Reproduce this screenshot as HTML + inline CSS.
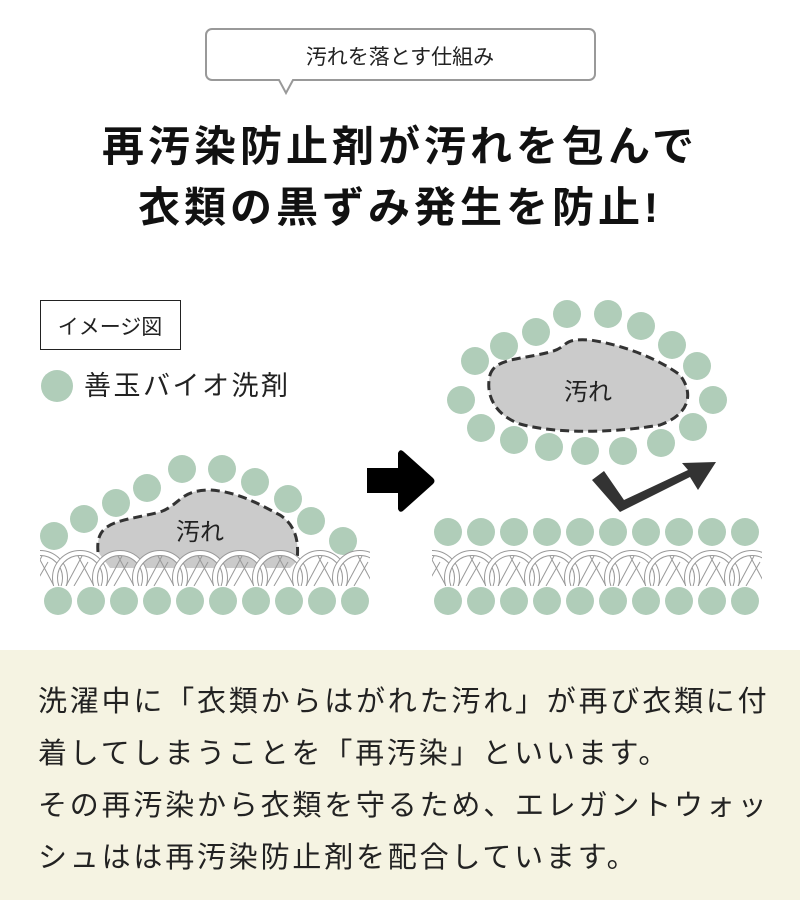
<!DOCTYPE html>
<html><head><meta charset="utf-8"><style>
body{margin:0;width:800px;height:900px;background:#fff;overflow:hidden;font-family:"Liberation Sans","Noto Sans CJK JP",sans-serif;}
svg{position:absolute;left:0;top:0}
.p{position:absolute;left:0;top:650px;width:800px;height:250px;background:#f5f3e2}
.t{position:absolute;left:38px;top:676px;font-size:29px;letter-spacing:2.8px;line-height:52px;color:#222;white-space:nowrap}
</style></head><body>
<div class="p"></div>
<div class="t">洗濯中に「衣類からはがれた汚れ」が再び衣類に付<br>着してしまうことを「再汚染」といいます。<br>その再汚染から衣類を守るため、エレガントウォッ<br>シュはは再汚染防止剤を配合しています。</div>
<svg width="800" height="650" viewBox="0 0 800 650" font-family="Liberation Sans, Noto Sans CJK JP, sans-serif">
<defs>
<g id="arc">
<path d="M-14 586 L2 556 M14 586 L-2 556 M-6 586 L8 562" stroke="#999" stroke-width="1" fill="none"/>
<circle cx="0" cy="578" r="25" stroke="#999" stroke-width="6" fill="none"/>
<circle cx="0" cy="578" r="25" stroke="#fff" stroke-width="4" fill="none"/>
</g>
<g id="fab">
<use href="#arc" x="20"/><use href="#arc" x="60"/><use href="#arc" x="100"/><use href="#arc" x="140"/><use href="#arc" x="180"/><use href="#arc" x="220"/><use href="#arc" x="260"/><use href="#arc" x="300"/><use href="#arc" x="340"/><use href="#arc" x="380"/>
</g>
<clipPath id="cl"><rect x="40" y="548" width="330" height="38"/></clipPath>
<clipPath id="cr"><rect x="432" y="548" width="330" height="38"/></clipPath>
</defs>
<path d="M212 29 H589 a6 6 0 0 1 6 6 V74 a6 6 0 0 1 -6 6 H293 L286 93 L279 80 H212 a6 6 0 0 1 -6 -6 V35 a6 6 0 0 1 6 -6Z" fill="#fff" stroke="#999" stroke-width="2"/>
<text x="400" y="64" font-size="21" text-anchor="middle" fill="#222">汚れを落とす仕組み</text>
<text x="400" y="161" font-size="42" letter-spacing="4" text-anchor="middle" fill="#111" font-weight="bold">再汚染防止剤が汚れを包んで</text>
<text x="400" y="222" font-size="42" letter-spacing="4" text-anchor="middle" fill="#111" font-weight="bold">衣類の黒ずみ発生を防止!</text>
<rect x="40.5" y="300.5" width="140" height="49" fill="#fff" stroke="#222"/>
<text x="110" y="334" font-size="21" text-anchor="middle" fill="#222">イメージ図</text>
<circle cx="57" cy="386" r="16" fill="#b0cdb9"/>
<text x="84" y="395" font-size="27" letter-spacing="2.5" fill="#222">善玉バイオ洗剤</text>
<g fill="#b0cdb9">
<circle cx="54" cy="536" r="14"/><circle cx="84" cy="519" r="14"/><circle cx="116" cy="503" r="14"/><circle cx="147" cy="488" r="14"/><circle cx="182" cy="469" r="14"/><circle cx="222" cy="469" r="14"/><circle cx="255" cy="482" r="14"/><circle cx="288" cy="499" r="14"/><circle cx="311" cy="521" r="14"/><circle cx="343" cy="541" r="14"/>
</g>
<path d="M98 552 C95 520 120 522 160 512 C180 505 180 490 210 490 C240 492 260 505 280 515 C300 528 298 550 297 561 L290 568 L110 568 Z" fill="#cbcbcb" stroke="none"/>
<path d="M98 552 C95 520 120 522 160 512 C180 505 180 490 210 490 C240 492 260 505 280 515 C300 528 298 550 297 561" fill="none" stroke="#333" stroke-width="3" stroke-dasharray="9 5"/>
<text x="200" y="540" font-size="24" text-anchor="middle" fill="#222">汚れ</text>
<g clip-path="url(#cl)"><use href="#fab" x="20"/></g>
<g clip-path="url(#cr)"><use href="#fab" x="412"/></g>
<g fill="#b0cdb9">
<circle cx="58" cy="601" r="14"/><circle cx="91" cy="601" r="14"/><circle cx="124" cy="601" r="14"/><circle cx="157" cy="601" r="14"/><circle cx="190" cy="601" r="14"/><circle cx="223" cy="601" r="14"/><circle cx="256" cy="601" r="14"/><circle cx="289" cy="601" r="14"/><circle cx="322" cy="601" r="14"/><circle cx="355" cy="601" r="14"/>
<circle cx="448" cy="601" r="14"/><circle cx="481" cy="601" r="14"/><circle cx="514" cy="601" r="14"/><circle cx="547" cy="601" r="14"/><circle cx="580" cy="601" r="14"/><circle cx="613" cy="601" r="14"/><circle cx="646" cy="601" r="14"/><circle cx="679" cy="601" r="14"/><circle cx="712" cy="601" r="14"/><circle cx="745" cy="601" r="14"/>
<circle cx="448" cy="532" r="14"/><circle cx="481" cy="532" r="14"/><circle cx="514" cy="532" r="14"/><circle cx="547" cy="532" r="14"/><circle cx="580" cy="532" r="14"/><circle cx="613" cy="532" r="14"/><circle cx="646" cy="532" r="14"/><circle cx="679" cy="532" r="14"/><circle cx="712" cy="532" r="14"/><circle cx="745" cy="532" r="14"/>
<circle cx="461" cy="400" r="14"/><circle cx="475" cy="361" r="14"/><circle cx="504" cy="346" r="14"/><circle cx="536" cy="332" r="14"/><circle cx="567" cy="314" r="14"/><circle cx="608" cy="314" r="14"/><circle cx="641" cy="326" r="14"/><circle cx="672" cy="345" r="14"/><circle cx="697" cy="366" r="14"/><circle cx="713" cy="400" r="14"/><circle cx="693" cy="427" r="14"/><circle cx="661" cy="443" r="14"/><circle cx="623" cy="451" r="14"/><circle cx="585" cy="451" r="14"/><circle cx="549" cy="447" r="14"/><circle cx="514" cy="440" r="14"/><circle cx="481" cy="428" r="14"/>
</g>
<path d="M490 375 C495 358 520 360 550 352 C570 347 560 338 590 340 C625 345 660 360 680 375 C695 395 688 415 660 425 C620 432 560 435 520 424 C495 415 485 395 490 375 Z" fill="#cbcbcb" stroke="#333" stroke-width="3" stroke-dasharray="9 5"/>
<text x="588" y="400" font-size="24" text-anchor="middle" fill="#222">汚れ</text>
<path d="M367 468 H398 V453 Q400 448 404 452 L433 478 Q436 481 433 484 L404 510 Q400 514 398 509 V493 H367 Z" fill="#000"/>
<path d="M592 480 L620 512 L690 477 L698 490 L716 462 L682 463 L688 470 L624 500 L604 471 Z" fill="#333"/>
</svg>
</body></html>
